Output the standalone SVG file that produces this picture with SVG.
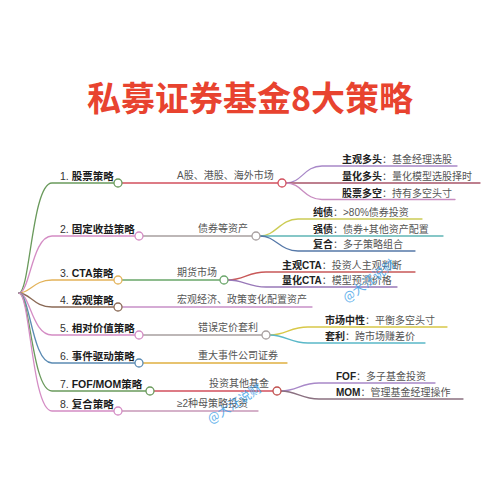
<svg xmlns="http://www.w3.org/2000/svg" width="500" height="492" viewBox="0 0 500 492">
<style>
text{font-family:"Liberation Sans","Noto Sans CJK SC",sans-serif;}
.title{font-size:34px;font-weight:bold;fill:#e8432f;font-family:"Noto Sans CJK SC",sans-serif;}
.l1{font-size:10.5px;fill:#333;}
.l1 .b{font-weight:bold;fill:#1a1a1a;}
.l2{font-size:10px;fill:#555;}
.l3{font-size:10px;fill:#555;}
.l3 .b{font-weight:bold;fill:#222;}
.ln{fill:none;stroke-width:1.3;stroke-linecap:round;}
.dot{fill:#fff;stroke-width:1.3;}
.wm{font-size:12.5px;fill:#3aa0e8;opacity:0.8;font-family:"Noto Sans CJK SC",sans-serif;}
</style>
<rect width="500" height="492" fill="#fff"/>
<text class="title" x="250" y="111" text-anchor="middle">私募证券基金8大策略</text>

<g id="connectors">
  <path class="ln" stroke="#6a9a5c" d="M19,293 C30,293 32,183 52,183 H114"/>
  <path class="ln" stroke="#d48cc4" d="M19,293 C30,293 32,236 52,236 H135"/>
  <path class="ln" stroke="#e3b35a" d="M19,293 C30,293 34,280 52,280 H114"/>
  <path class="ln" stroke="#8a6a56" d="M19,293 C30,293 34,307 52,307 H114"/>
  <path class="ln" stroke="#d48cc4" d="M19,293 C30,293 32,335 52,335 H135"/>
  <path class="ln" stroke="#5b8bb3" d="M19,293 C30,293 32,363 52,363 H135"/>
  <path class="ln" stroke="#6a9a5c" d="M19,293 C30,293 32,391 52,391 H146"/>
  <path class="ln" stroke="#d48cc4" d="M19,293 C30,293 32,411 52,411 H114"/>
  <path class="ln" stroke="#d2505e" d="M122,183 H278"/>
  <path class="ln" stroke="#a8a0a0" d="M143,236 H252"/>
  <path class="ln" stroke="#6aa66a" d="M122,280 H220"/>
  <path class="ln" stroke="#c890c8" d="M122,307 H312"/>
  <path class="ln" stroke="#a8a0a0" d="M143,335 H262"/>
  <path class="ln" stroke="#e0b040" d="M143,363 H287"/>
  <path class="ln" stroke="#d2505e" d="M154,391 H273"/>
  <path class="ln" stroke="#c898b8" d="M122,411 H258"/>
  <path class="ln" stroke="#a888c8" d="M286,183 C302,183 304,166 322,166 H457"/>
  <path class="ln" stroke="#a8566a" d="M286,183 H480"/>
  <path class="ln" stroke="#c88cc0" d="M286,183 C302,183 304,199.5 322,199.5 H455"/>
  <path class="ln" stroke="#cccc55" d="M260,236 C276,236 280,219 298,219 H422"/>
  <path class="ln" stroke="#5fb5b5" d="M260,236 H443"/>
  <path class="ln" stroke="#5578a8" d="M260,236 C276,236 280,251 298,251 H415"/>
  <path class="ln" stroke="#c85858" d="M228,280 C244,280 248,272 266,272 H415"/>
  <path class="ln" stroke="#9878b8" d="M228,280 C244,280 248,287 266,287 H397"/>
  <path class="ln" stroke="#d8c848" d="M270,335 C286,335 290,327 308,327 H447"/>
  <path class="ln" stroke="#5ab8c8" d="M270,335 C286,335 290,343 308,343 H425"/>
  <path class="ln" stroke="#a888c8" d="M281,391 C297,391 301,383 319,383 H435"/>
  <path class="ln" stroke="#8a7080" d="M281,391 C297,391 301,399 319,399 H463"/>
</g>

<g id="n1">
  <text class="l1" x="60" y="180">1. <tspan class="b">股票策略</tspan></text>
  <circle class="dot" cx="118" cy="183" r="4" stroke="#6a9a5c"/>
</g>
<g id="n1a">
  <text class="l2" x="177" y="179">A股、港股、海外市场</text>
  <circle class="dot" cx="282" cy="183" r="4" stroke="#d2505e"/>
</g>
<g id="n1a1"><text class="l3" x="342" y="163"><tspan class="b">主观多头</tspan>：基金经理选股</text></g>
<g id="n1a2"><text class="l3" x="342" y="180"><tspan class="b">量化多头</tspan>：量化模型选股择时</text></g>
<g id="n1a3"><text class="l3" x="342" y="196.5"><tspan class="b">股票多空</tspan>：持有多空头寸</text></g>

<g id="n2">
  <text class="l1" x="60" y="233">2. <tspan class="b">固定收益策略</tspan></text>
  <circle class="dot" cx="139" cy="236" r="4" stroke="#d48cc4"/>
</g>
<g id="n2a">
  <text class="l2" x="198" y="232">债券等资产</text>
  <circle class="dot" cx="256" cy="236" r="4" stroke="#a8a0a0"/>
</g>
<g id="n2a1"><text class="l3" x="313" y="216"><tspan class="b">纯债</tspan>：&gt;80%债券投资</text></g>
<g id="n2a2"><text class="l3" x="313" y="233"><tspan class="b">强债</tspan>：债券+其他资产配置</text></g>
<g id="n2a3"><text class="l3" x="313" y="248"><tspan class="b">复合</tspan>：多子策略组合</text></g>

<g id="n3">
  <text class="l1" x="60" y="277">3. <tspan class="b">CTA策略</tspan></text>
  <circle class="dot" cx="118" cy="280" r="4" stroke="#e3b35a"/>
</g>
<g id="n3a">
  <text class="l2" x="177" y="276">期货市场</text>
  <circle class="dot" cx="224" cy="280" r="4" stroke="#6aa66a"/>
</g>
<g id="n3a1"><text class="l3" x="282" y="269"><tspan class="b">主观CTA</tspan>：投资人主观判断</text></g>
<g id="n3a2"><text class="l3" x="282" y="284"><tspan class="b">量化CTA</tspan>：模型预测价格</text></g>

<g id="n4">
  <text class="l1" x="60" y="304">4. <tspan class="b">宏观策略</tspan></text>
  <circle class="dot" cx="118" cy="307" r="4" stroke="#8a6a56"/>
</g>
<g id="n4a"><text class="l2" x="177" y="303">宏观经济、政策变化配置资产</text></g>

<g id="n5">
  <text class="l1" x="60" y="332">5. <tspan class="b">相对价值策略</tspan></text>
  <circle class="dot" cx="139" cy="335" r="4" stroke="#d48cc4"/>
</g>
<g id="n5a">
  <text class="l2" x="198" y="331">错误定价套利</text>
  <circle class="dot" cx="266" cy="335" r="4" stroke="#a8a0a0"/>
</g>
<g id="n5a1"><text class="l3" x="325" y="324"><tspan class="b">市场中性</tspan>：平衡多空头寸</text></g>
<g id="n5a2"><text class="l3" x="325" y="340"><tspan class="b">套利</tspan>：跨市场赚差价</text></g>

<g id="n6">
  <text class="l1" x="60" y="360">6. <tspan class="b">事件驱动策略</tspan></text>
  <circle class="dot" cx="139" cy="363" r="4" stroke="#5b8bb3"/>
</g>
<g id="n6a"><text class="l2" x="198" y="359">重大事件公司证券</text></g>

<g id="n7">
  <text class="l1" x="60" y="388">7. <tspan class="b">FOF/MOM策略</tspan></text>
  <circle class="dot" cx="150" cy="391" r="4" stroke="#6a9a5c"/>
</g>
<g id="n7a">
  <text class="l2" x="209" y="387">投资其他基金</text>
  <circle class="dot" cx="277" cy="391" r="4" stroke="#c0504e"/>
</g>
<g id="n7a1"><text class="l3" x="336" y="380"><tspan class="b">FOF</tspan>：多子基金投资</text></g>
<g id="n7a2"><text class="l3" x="336" y="396"><tspan class="b">MOM</tspan>：管理基金经理操作</text></g>

<g id="n8">
  <text class="l1" x="60" y="408">8. <tspan class="b">复合策略</tspan></text>
  <circle class="dot" cx="118" cy="411" r="4" stroke="#d48cc4"/>
</g>
<g id="n8a"><text class="l2" x="177" y="407">≥2种母策略投资</text></g>

<text class="wm" transform="translate(347,303) rotate(-37)">@大汪说财</text>
<text class="wm" transform="translate(211,424) rotate(-33)">@大汪说财</text>
</svg>
